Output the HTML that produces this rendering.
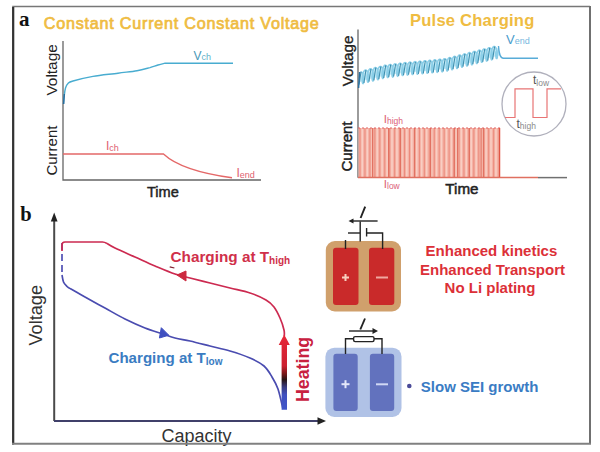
<!DOCTYPE html>
<html><head><meta charset="utf-8"><style>
html,body{margin:0;padding:0;background:#fff;width:600px;height:452px;overflow:hidden}
svg{display:block}
text{font-family:"Liberation Sans",sans-serif}
</style></head><body>
<svg width="600" height="452" viewBox="0 0 600 452">
<rect x="0" y="0" width="600" height="452" fill="#fff"/>
<!-- panel a label -->
<text x="19" y="25.5" font-family="Liberation Serif" font-weight="bold" font-size="21" fill="#111" style="font-family:'Liberation Serif',serif">a</text>
<text x="43.8" y="28.9" font-size="16.2" letter-spacing="0.75" fill="#efbc42" stroke="#efbc42" stroke-width="0.7">Constant Current Constant Voltage</text>

<!-- CCCV axes -->
<path d="M63,41 V180 H261" fill="none" stroke="#666" stroke-width="1.3"/>
<text transform="translate(56.8,95.6) rotate(-90)" font-size="15.4" fill="#222">Voltage</text>
<text transform="translate(57.3,175.6) rotate(-90)" font-size="15" fill="#222">Current</text>
<text x="147" y="197" font-size="14.6" fill="#222" stroke="#222" stroke-width="0.45">Time</text>
<path d="M63.5,104 C63.6,102.7 63.9,98.7 64.2,96 C64.5,93.3 64.9,90.1 65.5,88 C66.1,85.9 66.8,84.7 68,83.5 C69.2,82.3 68.8,82.2 73,81 C77.2,79.8 85.5,77.7 93,76.4 C100.5,75.1 110.7,74.2 118,73.2 C125.3,72.2 131.7,71.6 137,70.7 C142.3,69.8 146.5,68.5 150,67.6 C153.5,66.6 155.5,65.7 158,65 C160.5,64.3 163.8,63.5 165,63.2 H233" fill="none" stroke="#48acd0" stroke-width="1.4"/>
<path d="M63.6,104 L64.3,94" stroke="#2a6a9a" stroke-width="1.4"/>
<text x="193.5" y="60.2" font-size="12" fill="#4a98b8">V<tspan font-size="9" fill="#60b0c8">ch</tspan></text>
<path d="M63,154 H163.5 C172,162 190,172 232,177.8" fill="none" stroke="#e46868" stroke-width="1.4"/>
<text x="106" y="150" font-size="12" fill="#e06070">I<tspan font-size="9" dy="0.8">ch</tspan></text>
<text x="236.5" y="177" font-size="12" fill="#e06070">I<tspan font-size="9" dy="0.8">end</tspan></text>

<!-- Pulse panel -->
<text x="410" y="26.3" font-weight="bold" font-size="16.6" letter-spacing="0.2" fill="#efbc42">Pulse Charging</text>
<path d="M358,29.5 V177.7" fill="none" stroke="#666" stroke-width="1.3"/>
<text transform="translate(352.5,86.3) rotate(-90)" font-size="15.2" fill="#222" stroke="#222" stroke-width="0.35">Voltage</text>
<text transform="translate(351.8,171.5) rotate(-90)" font-size="15" fill="#222" stroke="#222" stroke-width="0.45">Current</text>
<text x="445.3" y="194.3" font-size="15.2" fill="#222" stroke="#222" stroke-width="0.5">Time</text>
<path d="M359.0,74.8 L361.0,74.1 L363.0,73.4 L365.0,72.7 L367.0,72.2 L369.0,71.7 L371.0,71.2 L373.0,70.7 L375.0,70.2 L377.0,69.8 L379.0,69.3 L381.0,68.8 L383.0,68.3 L385.0,67.8 L387.0,67.5 L389.0,67.3 L391.0,67.0 L393.0,66.7 L395.0,66.5 L397.0,66.2 L399.0,65.9 L401.0,65.6 L403.0,65.4 L405.0,65.1 L407.0,64.9 L409.0,64.7 L411.0,64.6 L413.0,64.4 L415.0,64.2 L417.0,64.0 L419.0,63.8 L421.0,63.7 L423.0,63.5 L425.0,63.3 L427.0,63.1 L429.0,62.9 L431.0,62.8 L433.0,62.6 L435.0,62.4 L437.0,62.2 L439.0,62.0 L441.0,61.7 L443.0,61.5 L445.0,61.3 L447.0,60.8 L449.0,60.3 L451.0,59.8 L453.0,59.3 L455.0,58.8 L457.0,58.3 L459.0,57.8 L461.0,57.3 L463.0,56.8 L465.0,56.3 L467.0,55.8 L469.0,55.3 L471.0,54.8 L473.0,54.3 L475.0,53.8 L477.0,53.3 L479.0,52.8 L481.0,52.3 L483.0,51.8 L485.0,51.3 L487.0,50.8 L489.0,50.3 L491.0,49.8 L493.0,49.3 L495.0,48.8 L497.0,48.3 L499.0,47.9 L499.0,55.5 L497.0,55.9 L495.0,56.4 L493.0,56.9 L491.0,57.4 L489.0,57.9 L487.0,58.4 L485.0,58.9 L483.0,59.4 L481.0,59.9 L479.0,60.4 L477.0,60.9 L475.0,61.4 L473.0,61.9 L471.0,62.4 L469.0,62.9 L467.0,63.4 L465.0,63.9 L463.0,64.4 L461.0,64.9 L459.0,65.4 L457.0,65.9 L455.0,66.4 L453.0,66.9 L451.0,67.4 L449.0,67.9 L447.0,68.4 L445.0,68.9 L443.0,69.1 L441.0,69.3 L439.0,69.6 L437.0,69.8 L435.0,70.0 L433.0,70.2 L431.0,70.4 L429.0,70.5 L427.0,70.7 L425.0,70.9 L423.0,71.1 L421.0,71.3 L419.0,71.4 L417.0,71.6 L415.0,71.8 L413.0,72.0 L411.0,72.2 L409.0,72.3 L407.0,72.5 L405.0,72.7 L403.0,73.0 L401.0,73.2 L399.0,73.5 L397.0,73.8 L395.0,74.0 L393.0,74.3 L391.0,74.6 L389.0,74.9 L387.0,75.1 L385.0,75.4 L383.0,75.9 L381.0,76.4 L379.0,76.9 L377.0,77.4 L375.0,77.8 L373.0,78.3 L371.0,78.8 L369.0,79.3 L367.0,79.8 L365.0,80.3 L363.0,81.0 L361.0,81.7 L359.0,82.4Z" fill="#c4eaf6"/>
<path d="M360.5,71.7 L360.9,71.8 L361.3,71.9 L361.6,72.2 L362.0,72.7 L362.3,73.2 L362.6,73.9 L362.9,74.6 L363.1,75.4 L363.3,76.3 L363.5,77.2 L363.6,78.1 L363.7,79.0 L363.7,79.8 L363.7,80.6 L363.7,81.4 L363.6,82.0 L363.5,82.6 L363.4,83.0 L363.3,83.3 L363.1,83.4 L363.0,83.5 L362.8,83.4 L362.7,83.1 L362.5,82.7 L362.4,82.2 L362.3,81.5 L362.3,80.8 L362.2,80.0 L362.2,79.1 L362.3,78.1 L362.4,77.2 L362.5,76.2 L362.7,75.2 L362.9,74.3 L363.1,73.4 L363.4,72.6 L363.7,71.9 L364.0,71.2 L364.4,70.8 L364.7,70.4 L365.1,70.2 L365.5,70.1 L365.9,70.1 L366.3,70.3 L366.6,70.7 L367.0,71.1 L367.3,71.7 L367.6,72.4 L367.9,73.1 L368.1,74.0 L368.3,74.8 L368.4,75.8 L368.6,76.7 L368.6,77.6 L368.7,78.4 L368.7,79.3 L368.6,80.0 L368.5,80.6 L368.5,81.2 L368.3,81.6 L368.2,81.9 L368.1,82.1 L367.9,82.1 L367.7,82.0 L367.6,81.7 L367.5,81.3 L367.4,80.8 L367.3,80.1 L367.2,79.4 L367.2,78.6 L367.2,77.7 L367.2,76.7 L367.3,75.8 L367.5,74.8 L367.6,73.8 L367.8,72.9 L368.1,72.1 L368.3,71.3 L368.7,70.6 L369.0,70.0 L369.3,69.5 L369.7,69.2 L370.1,68.9 L370.5,68.9 L370.9,68.9 L371.3,69.2 L371.6,69.5 L372.0,70.0 L372.3,70.6 L372.6,71.2 L372.8,72.0 L373.1,72.9 L373.3,73.7 L373.4,74.6 L373.5,75.6 L373.6,76.5 L373.6,77.3 L373.6,78.1 L373.6,78.9 L373.5,79.5 L373.4,80.0 L373.3,80.4 L373.1,80.7 L373.0,80.9 L372.8,80.9 L372.7,80.7 L372.5,80.4 L372.4,80.0 L372.3,79.5 L372.2,78.8 L372.2,78.1 L372.1,77.3 L372.1,76.4 L372.2,75.4 L372.3,74.5 L372.4,73.5 L372.6,72.5 L372.8,71.6 L373.0,70.8 L373.3,70.0 L373.6,69.3 L374.0,68.7 L374.3,68.2 L374.7,67.9 L375.1,67.7 L375.5,67.7 L375.9,67.8 L376.2,68.0 L376.6,68.3 L377.0,68.8 L377.3,69.4 L377.6,70.1 L377.8,70.9 L378.0,71.7 L378.2,72.6 L378.4,73.5 L378.5,74.5 L378.5,75.3 L378.6,76.2 L378.6,77.0 L378.5,77.7 L378.4,78.3 L378.3,78.9 L378.2,79.3 L378.1,79.5 L377.9,79.6 L377.8,79.6 L377.6,79.5 L377.5,79.2 L377.3,78.8 L377.2,78.2 L377.2,77.6 L377.1,76.8 L377.1,76.0 L377.1,75.0 L377.2,74.1 L377.3,73.1 L377.4,72.2 L377.6,71.2 L377.8,70.3 L378.0,69.4 L378.3,68.7 L378.6,68.0 L379.0,67.4 L379.3,67.0 L379.7,66.7 L380.1,66.5 L380.5,66.5 L380.9,66.6 L381.2,66.8 L381.6,67.2 L381.9,67.7 L382.3,68.3 L382.5,69.0 L382.8,69.8 L383.0,70.6 L383.2,71.5 L383.3,72.4 L383.4,73.3 L383.5,74.2 L383.5,75.1 L383.5,75.9 L383.4,76.6 L383.4,77.2 L383.3,77.7 L383.1,78.1 L383.0,78.3 L382.9,78.4 L382.7,78.4 L382.6,78.2 L382.4,77.9 L382.3,77.5 L382.2,76.9 L382.1,76.3 L382.1,75.5 L382.0,74.6 L382.1,73.7 L382.1,72.8 L382.2,71.8 L382.4,70.8 L382.5,69.9 L382.8,69.0 L383.0,68.1 L383.3,67.4 L383.6,66.7 L384.0,66.2 L384.3,65.7 L384.7,65.4 L385.1,65.3 L385.5,65.3 L385.9,65.4 L386.2,65.7 L386.6,66.1 L386.9,66.6 L387.2,67.2 L387.5,68.0 L387.8,68.8 L388.0,69.6 L388.2,70.6 L388.3,71.5 L388.4,72.4 L388.4,73.3 L388.5,74.2 L388.4,75.0 L388.4,75.7 L388.3,76.3 L388.2,76.8 L388.1,77.2 L387.9,77.4 L387.8,77.5 L387.6,77.5 L387.5,77.3 L387.3,77.0 L387.2,76.6 L387.1,76.0 L387.0,75.3 L387.0,74.6 L387.0,73.7 L387.0,72.8 L387.1,71.9 L387.2,70.9 L387.3,70.0 L387.5,69.0 L387.7,68.2 L388.0,67.3 L388.3,66.6 L388.6,65.9 L388.9,65.4 L389.3,65.0 L389.7,64.7 L390.1,64.6 L390.5,64.6 L390.8,64.8 L391.2,65.1 L391.6,65.5 L391.9,66.0 L392.2,66.7 L392.5,67.4 L392.8,68.2 L393.0,69.1 L393.1,70.0 L393.3,70.9 L393.4,71.8 L393.4,72.7 L393.4,73.6 L393.4,74.4 L393.3,75.1 L393.2,75.7 L393.1,76.2 L393.0,76.5 L392.9,76.8 L392.7,76.9 L392.6,76.8 L392.4,76.6 L392.3,76.3 L392.2,75.8 L392.1,75.3 L392.0,74.6 L391.9,73.8 L391.9,73.0 L392.0,72.1 L392.0,71.1 L392.1,70.2 L392.3,69.2 L392.5,68.3 L392.7,67.4 L393.0,66.6 L393.3,65.8 L393.6,65.2 L393.9,64.7 L394.3,64.3 L394.7,64.1 L395.1,63.9 L395.5,64.0 L395.8,64.1 L396.2,64.4 L396.6,64.9 L396.9,65.4 L397.2,66.1 L397.5,66.8 L397.7,67.6 L397.9,68.5 L398.1,69.4 L398.2,70.4 L398.3,71.3 L398.4,72.2 L398.4,73.0 L398.3,73.8 L398.3,74.5 L398.2,75.1 L398.1,75.6 L397.9,75.9 L397.8,76.1 L397.6,76.2 L397.5,76.1 L397.4,75.9 L397.2,75.6 L397.1,75.1 L397.0,74.5 L396.9,73.8 L396.9,73.1 L396.9,72.2 L396.9,71.3 L397.0,70.3 L397.1,69.4 L397.3,68.4 L397.5,67.5 L397.7,66.6 L398.0,65.8 L398.2,65.1 L398.6,64.5 L398.9,64.0 L399.3,63.6 L399.7,63.4 L400.1,63.3 L400.4,63.3 L400.8,63.5 L401.2,63.8 L401.6,64.2 L401.9,64.8 L402.2,65.5 L402.5,66.2 L402.7,67.1 L402.9,67.9 L403.1,68.9 L403.2,69.8 L403.3,70.7 L403.3,71.6 L403.3,72.4 L403.3,73.2 L403.2,73.9 L403.1,74.5 L403.0,74.9 L402.9,75.3 L402.7,75.5 L402.6,75.5 L402.4,75.4 L402.3,75.2 L402.2,74.9 L402.0,74.4 L401.9,73.8 L401.9,73.1 L401.8,72.3 L401.8,71.4 L401.9,70.5 L402.0,69.6 L402.1,68.6 L402.2,67.6 L402.4,66.7 L402.7,65.9 L402.9,65.1 L403.2,64.4 L403.6,63.8 L403.9,63.3 L404.3,62.9 L404.7,62.7 L405.1,62.6 L405.4,62.7 L405.8,62.9 L406.2,63.2 L406.5,63.7 L406.9,64.2 L407.2,64.9 L407.4,65.7 L407.7,66.5 L407.9,67.4 L408.0,68.4 L408.1,69.3 L408.2,70.2 L408.3,71.1 L408.3,71.9 L408.2,72.7 L408.2,73.4 L408.1,73.9 L407.9,74.4 L407.8,74.7 L407.7,74.9 L407.5,75.0 L407.4,74.9 L407.2,74.7 L407.1,74.3 L407.0,73.8 L406.9,73.2 L406.8,72.5 L406.8,71.7 L406.8,70.8 L406.8,69.9 L406.9,69.0 L407.0,68.0 L407.2,67.1 L407.4,66.1 L407.6,65.3 L407.9,64.5 L408.2,63.8 L408.6,63.2 L408.9,62.8 L409.3,62.4 L409.7,62.2 L410.0,62.1 L410.4,62.2 L410.8,62.4 L411.2,62.8 L411.5,63.3 L411.9,63.9 L412.2,64.6 L412.4,65.3 L412.6,66.2 L412.8,67.1 L413.0,68.0 L413.1,68.9 L413.2,69.9 L413.2,70.7 L413.2,71.6 L413.2,72.3 L413.1,73.0 L413.0,73.6 L412.9,74.0 L412.7,74.3 L412.6,74.5 L412.4,74.5 L412.3,74.4 L412.2,74.2 L412.0,73.8 L411.9,73.3 L411.8,72.7 L411.8,71.9 L411.7,71.1 L411.7,70.3 L411.8,69.3 L411.9,68.4 L412.0,67.4 L412.2,66.5 L412.4,65.6 L412.6,64.8 L412.9,64.0 L413.2,63.3 L413.5,62.7 L413.9,62.3 L414.3,61.9 L414.7,61.8 L415.0,61.7 L415.4,61.8 L415.8,62.0 L416.2,62.4 L416.5,62.9 L416.8,63.5 L417.1,64.2 L417.4,65.0 L417.6,65.8 L417.8,66.7 L418.0,67.7 L418.1,68.6 L418.1,69.5 L418.2,70.4 L418.2,71.2 L418.1,72.0 L418.0,72.6 L417.9,73.2 L417.8,73.6 L417.7,73.9 L417.5,74.1 L417.4,74.1 L417.2,74.0 L417.1,73.7 L417.0,73.3 L416.9,72.8 L416.8,72.1 L416.7,71.4 L416.7,70.6 L416.7,69.7 L416.8,68.8 L416.8,67.8 L417.0,66.9 L417.1,66.0 L417.4,65.1 L417.6,64.2 L417.9,63.5 L418.2,62.8 L418.5,62.2 L418.9,61.8 L419.3,61.5 L419.6,61.3 L420.0,61.3 L420.4,61.4 L420.8,61.6 L421.2,62.0 L421.5,62.5 L421.8,63.1 L422.1,63.8 L422.4,64.6 L422.6,65.5 L422.8,66.4 L422.9,67.3 L423.0,68.3 L423.1,69.2 L423.1,70.0 L423.1,70.9 L423.1,71.6 L423.0,72.2 L422.9,72.8 L422.8,73.2 L422.6,73.5 L422.5,73.6 L422.3,73.6 L422.2,73.5 L422.0,73.2 L421.9,72.8 L421.8,72.3 L421.7,71.6 L421.7,70.9 L421.6,70.1 L421.7,69.2 L421.7,68.2 L421.8,67.3 L421.9,66.3 L422.1,65.4 L422.3,64.5 L422.6,63.7 L422.9,62.9 L423.2,62.3 L423.5,61.7 L423.9,61.3 L424.3,61.0 L424.6,60.8 L425.0,60.8 L425.4,60.9 L425.8,61.2 L426.2,61.6 L426.5,62.1 L426.8,62.8 L427.1,63.5 L427.4,64.3 L427.6,65.1 L427.7,66.1 L427.9,67.0 L428.0,67.9 L428.0,68.8 L428.1,69.7 L428.0,70.5 L428.0,71.2 L427.9,71.9 L427.8,72.4 L427.7,72.8 L427.5,73.1 L427.4,73.2 L427.2,73.2 L427.1,73.0 L427.0,72.7 L426.8,72.3 L426.7,71.8 L426.7,71.1 L426.6,70.3 L426.6,69.5 L426.6,68.6 L426.7,67.7 L426.8,66.7 L426.9,65.8 L427.1,64.9 L427.3,64.0 L427.6,63.1 L427.8,62.4 L428.2,61.8 L428.5,61.2 L428.9,60.8 L429.2,60.5 L429.6,60.4 L430.0,60.4 L430.4,60.5 L430.8,60.8 L431.1,61.2 L431.5,61.7 L431.8,62.4 L432.1,63.1 L432.3,63.9 L432.5,64.8 L432.7,65.7 L432.8,66.6 L432.9,67.6 L433.0,68.5 L433.0,69.3 L433.0,70.1 L432.9,70.9 L432.9,71.5 L432.7,72.0 L432.6,72.4 L432.5,72.6 L432.3,72.7 L432.2,72.7 L432.0,72.5 L431.9,72.2 L431.8,71.8 L431.7,71.2 L431.6,70.6 L431.5,69.8 L431.5,69.0 L431.6,68.1 L431.6,67.1 L431.7,66.2 L431.9,65.2 L432.1,64.3 L432.3,63.4 L432.5,62.6 L432.8,61.9 L433.2,61.2 L433.5,60.7 L433.9,60.3 L434.2,60.1 L434.6,59.9 L435.0,59.9 L435.4,60.1 L435.8,60.4 L436.1,60.8 L436.5,61.4 L436.8,62.0 L437.1,62.7 L437.3,63.6 L437.5,64.4 L437.7,65.4 L437.8,66.3 L437.9,67.2 L438.0,68.1 L438.0,69.0 L437.9,69.8 L437.9,70.5 L437.8,71.1 L437.7,71.6 L437.6,71.9 L437.4,72.2 L437.3,72.3 L437.1,72.2 L437.0,72.0 L436.8,71.7 L436.7,71.2 L436.6,70.7 L436.5,70.0 L436.5,69.2 L436.5,68.4 L436.5,67.5 L436.6,66.5 L436.7,65.6 L436.8,64.6 L437.0,63.7 L437.3,62.8 L437.5,62.0 L437.8,61.3 L438.1,60.7 L438.5,60.1 L438.9,59.8 L439.2,59.5 L439.6,59.4 L440.0,59.4 L440.4,59.6 L440.8,59.9 L441.1,60.3 L441.5,60.9 L441.8,61.5 L442.0,62.3 L442.3,63.1 L442.5,64.0 L442.6,64.9 L442.8,65.8 L442.9,66.8 L442.9,67.7 L442.9,68.5 L442.9,69.3 L442.8,70.0 L442.7,70.6 L442.6,71.1 L442.5,71.4 L442.3,71.6 L442.2,71.7 L442.0,71.6 L441.9,71.4 L441.8,71.1 L441.6,70.6 L441.6,70.1 L441.5,69.4 L441.4,68.6 L441.4,67.7 L441.5,66.8 L441.5,65.9 L441.7,64.9 L441.8,64.0 L442.0,63.0 L442.2,62.2 L442.5,61.4 L442.8,60.7 L443.1,60.0 L443.5,59.5 L443.8,59.2 L444.2,58.9 L444.6,58.8 L445.0,58.9 L445.4,59.1 L445.8,59.4 L446.1,59.8 L446.4,60.4 L446.7,61.0 L447.0,61.8 L447.3,62.6 L447.5,63.5 L447.6,64.4 L447.7,65.3 L447.8,66.2 L447.9,67.1 L447.9,67.9 L447.8,68.6 L447.8,69.3 L447.7,69.9 L447.6,70.3 L447.4,70.6 L447.3,70.8 L447.1,70.9 L447.0,70.8 L446.8,70.5 L446.7,70.2 L446.6,69.7 L446.5,69.1 L446.4,68.3 L446.4,67.5 L446.4,66.7 L446.4,65.7 L446.5,64.8 L446.6,63.8 L446.8,62.8 L447.0,61.9 L447.2,61.0 L447.5,60.2 L447.8,59.5 L448.1,58.9 L448.5,58.4 L448.8,58.0 L449.2,57.7 L449.6,57.6 L450.0,57.7 L450.4,57.9 L450.7,58.2 L451.1,58.6 L451.4,59.2 L451.7,59.9 L452.0,60.6 L452.2,61.4 L452.4,62.3 L452.6,63.2 L452.7,64.1 L452.8,65.0 L452.8,65.9 L452.8,66.7 L452.8,67.5 L452.7,68.1 L452.6,68.7 L452.5,69.1 L452.4,69.4 L452.2,69.6 L452.1,69.6 L451.9,69.5 L451.8,69.3 L451.6,68.9 L451.5,68.4 L451.4,67.7 L451.4,67.0 L451.3,66.2 L451.3,65.3 L451.4,64.4 L451.5,63.4 L451.6,62.4 L451.8,61.5 L452.0,60.5 L452.2,59.7 L452.5,58.9 L452.8,58.2 L453.1,57.6 L453.5,57.1 L453.8,56.7 L454.2,56.5 L454.6,56.4 L455.0,56.5 L455.4,56.7 L455.7,57.0 L456.1,57.5 L456.4,58.0 L456.7,58.7 L457.0,59.5 L457.2,60.3 L457.4,61.2 L457.5,62.1 L457.7,63.0 L457.7,63.9 L457.8,64.8 L457.8,65.6 L457.7,66.3 L457.6,67.0 L457.5,67.5 L457.4,67.9 L457.3,68.2 L457.1,68.4 L457.0,68.4 L456.8,68.3 L456.7,68.0 L456.6,67.6 L456.5,67.1 L456.4,66.4 L456.3,65.7 L456.3,64.9 L456.3,64.0 L456.3,63.0 L456.4,62.1 L456.6,61.1 L456.7,60.1 L456.9,59.2 L457.2,58.3 L457.5,57.6 L457.8,56.9 L458.1,56.3 L458.5,55.8 L458.8,55.4 L459.2,55.2 L459.6,55.2 L460.0,55.2 L460.4,55.5 L460.7,55.8 L461.1,56.3 L461.4,56.9 L461.7,57.6 L461.9,58.3 L462.2,59.2 L462.4,60.0 L462.5,61.0 L462.6,61.9 L462.7,62.8 L462.7,63.6 L462.7,64.4 L462.7,65.2 L462.6,65.8 L462.5,66.3 L462.4,66.7 L462.2,67.0 L462.1,67.1 L461.9,67.1 L461.8,67.0 L461.6,66.7 L461.5,66.3 L461.4,65.8 L461.3,65.1 L461.3,64.4 L461.2,63.5 L461.3,62.6 L461.3,61.7 L461.4,60.7 L461.5,59.7 L461.7,58.8 L461.9,57.9 L462.2,57.0 L462.4,56.2 L462.7,55.5 L463.1,55.0 L463.4,54.5 L463.8,54.2 L464.2,54.0 L464.6,53.9 L465.0,54.0 L465.4,54.3 L465.7,54.6 L466.1,55.1 L466.4,55.7 L466.7,56.4 L466.9,57.2 L467.1,58.0 L467.3,58.9 L467.5,59.8 L467.6,60.7 L467.6,61.6 L467.7,62.5 L467.6,63.3 L467.6,64.0 L467.5,64.6 L467.4,65.1 L467.3,65.5 L467.2,65.8 L467.0,65.9 L466.9,65.9 L466.7,65.7 L466.6,65.4 L466.4,65.0 L466.3,64.5 L466.3,63.8 L466.2,63.0 L466.2,62.2 L466.2,61.3 L466.3,60.3 L466.4,59.4 L466.5,58.4 L466.7,57.4 L466.9,56.5 L467.1,55.7 L467.4,54.9 L467.7,54.2 L468.1,53.7 L468.4,53.2 L468.8,52.9 L469.2,52.7 L469.6,52.7 L470.0,52.8 L470.3,53.1 L470.7,53.4 L471.0,53.9 L471.4,54.5 L471.6,55.2 L471.9,56.0 L472.1,56.9 L472.3,57.8 L472.4,58.7 L472.5,59.6 L472.6,60.5 L472.6,61.3 L472.6,62.1 L472.5,62.8 L472.5,63.4 L472.4,63.9 L472.2,64.3 L472.1,64.6 L471.9,64.7 L471.8,64.6 L471.6,64.5 L471.5,64.2 L471.4,63.7 L471.3,63.2 L471.2,62.5 L471.2,61.7 L471.1,60.9 L471.2,59.9 L471.2,59.0 L471.3,58.0 L471.5,57.1 L471.6,56.1 L471.9,55.2 L472.1,54.4 L472.4,53.6 L472.7,52.9 L473.1,52.4 L473.4,51.9 L473.8,51.6 L474.2,51.5 L474.6,51.5 L475.0,51.6 L475.3,51.9 L475.7,52.2 L476.0,52.8 L476.3,53.4 L476.6,54.1 L476.9,54.9 L477.1,55.7 L477.3,56.6 L477.4,57.6 L477.5,58.5 L477.5,59.4 L477.6,60.2 L477.5,61.0 L477.5,61.7 L477.4,62.3 L477.3,62.8 L477.2,63.1 L477.0,63.4 L476.9,63.4 L476.7,63.4 L476.6,63.2 L476.4,62.9 L476.3,62.4 L476.2,61.9 L476.1,61.2 L476.1,60.4 L476.1,59.5 L476.1,58.6 L476.2,57.7 L476.3,56.7 L476.4,55.7 L476.6,54.8 L476.8,53.9 L477.1,53.0 L477.4,52.3 L477.7,51.6 L478.1,51.1 L478.4,50.7 L478.8,50.4 L479.2,50.3 L479.6,50.2 L480.0,50.4 L480.3,50.7 L480.7,51.1 L481.0,51.6 L481.3,52.2 L481.6,53.0 L481.9,53.8 L482.1,54.6 L482.2,55.5 L482.4,56.4 L482.5,57.3 L482.5,58.2 L482.5,59.1 L482.5,59.8 L482.4,60.5 L482.3,61.1 L482.2,61.6 L482.1,61.9 L482.0,62.1 L481.8,62.2 L481.7,62.2 L481.5,62.0 L481.4,61.6 L481.3,61.1 L481.2,60.6 L481.1,59.9 L481.0,59.1 L481.0,58.2 L481.1,57.3 L481.1,56.3 L481.2,55.3 L481.4,54.4 L481.6,53.4 L481.8,52.5 L482.1,51.7 L482.4,51.0 L482.7,50.3 L483.0,49.8 L483.4,49.4 L483.8,49.1 L484.2,49.0 L484.6,49.0 L484.9,49.2 L485.3,49.5 L485.7,49.9 L486.0,50.4 L486.3,51.1 L486.6,51.8 L486.8,52.6 L487.0,53.5 L487.2,54.4 L487.3,55.3 L487.4,56.2 L487.5,57.1 L487.5,57.9 L487.4,58.7 L487.4,59.4 L487.3,59.9 L487.2,60.4 L487.0,60.7 L486.9,60.9 L486.7,61.0 L486.6,60.9 L486.4,60.7 L486.3,60.3 L486.2,59.9 L486.1,59.3 L486.0,58.5 L486.0,57.7 L486.0,56.9 L486.0,55.9 L486.1,55.0 L486.2,54.0 L486.4,53.0 L486.6,52.1 L486.8,51.2 L487.1,50.4 L487.4,49.7 L487.7,49.0 L488.0,48.5 L488.4,48.1 L488.8,47.9 L489.2,47.8 L489.6,47.8 L489.9,48.0 L490.3,48.3 L490.7,48.7 L491.0,49.3 L491.3,49.9 L491.6,50.7 L491.8,51.5 L492.0,52.4 L492.2,53.3 L492.3,54.2 L492.4,55.1 L492.4,56.0 L492.4,56.8 L492.4,57.5 L492.3,58.2 L492.2,58.8 L492.1,59.2 L492.0,59.5 L491.8,59.7 L491.7,59.8 L491.5,59.7 L491.4,59.4 L491.3,59.1 L491.1,58.6 L491.0,58.0 L491.0,57.2 L490.9,56.4 L490.9,55.5 L491.0,54.6 L491.1,53.6 L491.2,52.7 L491.3,51.7 L491.5,50.8 L491.8,49.9 L492.0,49.1 L492.3,48.4 L492.7,47.8 L493.0,47.3 L493.4,46.9 L493.8,46.6 L494.2,46.6 L494.5,46.6 L494.9,46.8 L495.3,47.1 L495.6,47.6 L496.0,48.1 L496.3,48.8 L496.5,49.5 L496.8,50.4 L497.0,51.2 L497.1,52.1 L497.2,53.1 L497.3,54.0 L497.4,54.8 L497.4,55.6 L497.3,56.4 L497.3,57.0 L497.2,57.6 L497.0,58.0 L496.9,58.3 L496.8,58.5 L496.6,58.5 L496.5,58.4 L496.3,58.2 L496.2,57.8 L496.1,57.3 L496.0,56.6 L495.9,55.9 L495.9,55.1 L495.9,54.2 L495.9,53.3 L496.0,52.3 L496.1,51.3" fill="none" stroke="#8ccfe8" stroke-width="1.7"/>
<path d="M359.0,84.7 L361.0,71.8 M363.9,83.0 L365.9,70.2 M368.9,81.6 L370.9,69.0 M373.8,80.4 L375.8,67.7 M378.8,79.2 L380.8,66.5 M383.7,78.0 L385.7,65.4 M388.7,77.2 L390.7,64.7 M393.6,76.5 L395.6,64.1 M398.6,75.9 L400.6,63.4 M403.5,75.2 L405.5,62.8 M408.5,74.7 L410.5,62.3 M413.4,74.2 L415.4,61.9 M418.4,73.8 L420.4,61.4 M423.3,73.3 L425.3,61.0 M428.3,72.9 L430.3,60.5 M433.2,72.5 L435.2,60.1 M438.2,71.9 L440.2,59.5 M443.1,71.4 L445.1,59.0 M448.1,70.4 L450.1,57.7 M453.0,69.2 L455.0,56.5 M458.0,68.0 L460.0,55.3 M462.9,66.7 L464.9,54.0 M467.9,65.5 L469.9,52.8 M472.8,64.2 L474.8,51.5 M477.8,63.0 L479.8,50.3 M482.7,61.8 L484.7,49.1 M487.7,60.6 L489.7,47.9 M492.6,59.3 L494.6,46.6" fill="none" stroke="#4090b0" stroke-width="1.1"/>
<path d="M358.6,88 L359.6,72" stroke="#2a70a0" stroke-width="1.4"/>
<path d="M498.5,46 C499,54 500,58 503.5,58.3 H538" fill="none" stroke="#58acd8" stroke-width="1.4"/>
<text x="506" y="43.6" font-size="13" fill="#4a9ccc">V<tspan font-size="9" dy="0.8" fill="#78b8e0">end</tspan></text>
<rect x="358.5" y="128" width="141.5" height="49.6" fill="#f4b2a5"/>
<rect x="359.50" y="128" width="1.0" height="49.6" fill="#ec8a7c"/>
<rect x="361.50" y="128" width="1.6" height="49.6" fill="#f9cec4"/>
<rect x="364.45" y="128" width="1.0" height="49.6" fill="#ec8a7c"/>
<rect x="366.45" y="128" width="1.6" height="49.6" fill="#f9cec4"/>
<rect x="369.40" y="128" width="1.0" height="49.6" fill="#ec8a7c"/>
<rect x="371.40" y="128" width="1.6" height="49.6" fill="#f9cec4"/>
<rect x="374.35" y="128" width="1.0" height="49.6" fill="#ec8a7c"/>
<rect x="376.35" y="128" width="1.6" height="49.6" fill="#f9cec4"/>
<rect x="379.30" y="128" width="1.0" height="49.6" fill="#ec8a7c"/>
<rect x="381.30" y="128" width="1.6" height="49.6" fill="#f9cec4"/>
<rect x="384.25" y="128" width="1.0" height="49.6" fill="#ec8a7c"/>
<rect x="386.25" y="128" width="1.6" height="49.6" fill="#f9cec4"/>
<rect x="389.20" y="128" width="1.0" height="49.6" fill="#ec8a7c"/>
<rect x="391.20" y="128" width="1.6" height="49.6" fill="#f9cec4"/>
<rect x="394.15" y="128" width="1.0" height="49.6" fill="#ec8a7c"/>
<rect x="396.15" y="128" width="1.6" height="49.6" fill="#f9cec4"/>
<rect x="399.10" y="128" width="1.0" height="49.6" fill="#ec8a7c"/>
<rect x="401.10" y="128" width="1.6" height="49.6" fill="#f9cec4"/>
<rect x="404.05" y="128" width="1.0" height="49.6" fill="#ec8a7c"/>
<rect x="406.05" y="128" width="1.6" height="49.6" fill="#f9cec4"/>
<rect x="409.00" y="128" width="1.0" height="49.6" fill="#ec8a7c"/>
<rect x="411.00" y="128" width="1.6" height="49.6" fill="#f9cec4"/>
<rect x="413.95" y="128" width="1.0" height="49.6" fill="#ec8a7c"/>
<rect x="415.95" y="128" width="1.6" height="49.6" fill="#f9cec4"/>
<rect x="418.90" y="128" width="1.0" height="49.6" fill="#ec8a7c"/>
<rect x="420.90" y="128" width="1.6" height="49.6" fill="#f9cec4"/>
<rect x="423.85" y="128" width="1.0" height="49.6" fill="#ec8a7c"/>
<rect x="425.85" y="128" width="1.6" height="49.6" fill="#f9cec4"/>
<rect x="428.80" y="128" width="1.0" height="49.6" fill="#ec8a7c"/>
<rect x="430.80" y="128" width="1.6" height="49.6" fill="#f9cec4"/>
<rect x="433.75" y="128" width="1.0" height="49.6" fill="#ec8a7c"/>
<rect x="435.75" y="128" width="1.6" height="49.6" fill="#f9cec4"/>
<rect x="438.70" y="128" width="1.0" height="49.6" fill="#ec8a7c"/>
<rect x="440.70" y="128" width="1.6" height="49.6" fill="#f9cec4"/>
<rect x="443.65" y="128" width="1.0" height="49.6" fill="#ec8a7c"/>
<rect x="445.65" y="128" width="1.6" height="49.6" fill="#f9cec4"/>
<rect x="448.60" y="128" width="1.0" height="49.6" fill="#ec8a7c"/>
<rect x="450.60" y="128" width="1.6" height="49.6" fill="#f9cec4"/>
<rect x="453.55" y="128" width="1.0" height="49.6" fill="#ec8a7c"/>
<rect x="455.55" y="128" width="1.6" height="49.6" fill="#f9cec4"/>
<rect x="458.50" y="128" width="1.0" height="49.6" fill="#ec8a7c"/>
<rect x="460.50" y="128" width="1.6" height="49.6" fill="#f9cec4"/>
<rect x="463.45" y="128" width="1.0" height="49.6" fill="#ec8a7c"/>
<rect x="465.45" y="128" width="1.6" height="49.6" fill="#f9cec4"/>
<rect x="468.40" y="128" width="1.0" height="49.6" fill="#ec8a7c"/>
<rect x="470.40" y="128" width="1.6" height="49.6" fill="#f9cec4"/>
<rect x="473.35" y="128" width="1.0" height="49.6" fill="#ec8a7c"/>
<rect x="475.35" y="128" width="1.6" height="49.6" fill="#f9cec4"/>
<rect x="478.30" y="128" width="1.0" height="49.6" fill="#ec8a7c"/>
<rect x="480.30" y="128" width="1.6" height="49.6" fill="#f9cec4"/>
<rect x="483.25" y="128" width="1.0" height="49.6" fill="#ec8a7c"/>
<rect x="485.25" y="128" width="1.6" height="49.6" fill="#f9cec4"/>
<rect x="488.20" y="128" width="1.0" height="49.6" fill="#ec8a7c"/>
<rect x="490.20" y="128" width="1.6" height="49.6" fill="#f9cec4"/>
<rect x="493.15" y="128" width="1.0" height="49.6" fill="#ec8a7c"/>
<rect x="495.15" y="128" width="1.6" height="49.6" fill="#f9cec4"/>
<rect x="372.00" y="128" width="1.2" height="49.6" fill="#e27262"/>
<rect x="388.00" y="128" width="1.2" height="49.6" fill="#e27262"/>
<rect x="400.00" y="128" width="1.2" height="49.6" fill="#e27262"/>
<rect x="414.00" y="128" width="1.2" height="49.6" fill="#e27262"/>
<rect x="430.00" y="128" width="1.2" height="49.6" fill="#e27262"/>
<rect x="453.70" y="128" width="1.2" height="49.6" fill="#e27262"/>
<rect x="456.90" y="128" width="1.2" height="49.6" fill="#e27262"/>
<rect x="468.80" y="128" width="1.2" height="49.6" fill="#e27262"/>
<rect x="480.50" y="128" width="1.2" height="49.6" fill="#e27262"/>
<rect x="483.00" y="128" width="1.2" height="49.6" fill="#e27262"/>
<line x1="358" y1="128" x2="500" y2="128" stroke="#e06060" stroke-width="1" stroke-dasharray="2,2"/>
<line x1="499.5" y1="128" x2="499.5" y2="177.6" stroke="#e05545" stroke-width="1.5"/>
<line x1="358" y1="177.6" x2="538" y2="177.6" stroke="#e07060" stroke-width="1.5"/>
<line x1="538" y1="177.6" x2="567" y2="177.6" stroke="#707070" stroke-width="1.5"/>
<text x="383.8" y="123" font-size="11.5" fill="#dc6078">I<tspan font-size="8.5" dy="1">high</tspan></text>
<text x="383.8" y="188" font-size="11.5" fill="#dc6078">I<tspan font-size="8.5" dy="1">low</tspan></text>
<!-- inset -->
<circle cx="534" cy="104" r="32" fill="#fff" stroke="#b0b0bc" stroke-width="1.3"/>
<path d="M505,117.5 H515 V88.8 H533 V117.5 H547 V88.8 H561" fill="none" stroke="#e87474" stroke-width="1.2"/>
<text x="533" y="84" font-size="12" fill="#555">t<tspan font-size="8.5" dy="1.8" fill="#8a8a8a">low</tspan></text>
<text x="516.5" y="127.5" font-size="12" fill="#555">t<tspan font-size="8.5" dy="1.8" fill="#8a8a8a">high</tspan></text>

<!-- panel b -->
<text x="20.3" y="221" font-weight="bold" font-size="20.5" fill="#111" style="font-family:'Liberation Serif',serif">b</text>
<path d="M54.2,421 V219" fill="none" stroke="#4a4a4a" stroke-width="2"/>
<path d="M50.8,221.5 L54.2,212.5 L57.6,221.5 Z" fill="#222"/>
<path d="M54,421 H320" fill="none" stroke="#40406a" stroke-width="2"/>
<path d="M317.5,417.3 L326,421 L317.5,424.7 Z" fill="#222"/>
<text x="161.5" y="441.7" font-size="18" fill="#333">Capacity</text>
<text transform="translate(42.2,345.6) rotate(-90)" font-size="18.2" fill="#333">Voltage</text>

<path d="M62,243 V276" fill="none" stroke="#5a5ab8" stroke-width="1.8" stroke-dasharray="7,4"/>
<path d="M62,275 C62.2,276.2 62.7,280.1 63.5,282 C64.3,283.9 65.8,285.3 67,286.5 C68.2,287.7 68.0,287.2 71,289 C74.0,290.8 79.3,293.8 85,297 C90.7,300.2 98.3,304.3 105,308 C111.7,311.7 118.3,315.7 125,319 C131.7,322.3 138.7,325.5 145,328 C151.3,330.5 158.0,332.3 163,334 C168.0,335.7 170.5,336.8 175,338 C179.5,339.2 184.2,339.7 190,341 C195.8,342.3 203.3,344.3 210,346 C216.7,347.7 223.3,349.0 230,351 C236.7,353.0 244.3,355.5 250,358 C255.7,360.5 260.3,362.8 264,366 C267.7,369.2 269.7,373.2 272,377 C274.3,380.8 276.2,383.7 278,389 C279.8,394.3 282.2,405.7 283,409" fill="none" stroke="#4a4cb0" stroke-width="1.7"/>
<path d="M161.3,327.7 L168.8,335.2 L159.4,338 Z" fill="#4050c0" stroke="#4050c0" stroke-width="1" stroke-linejoin="round"/>
<path d="M62,251 V245 Q62,242 65,242 H102.5 Q104.5,242 107,243.4" fill="none" stroke="#cc2a50" stroke-width="1.7"/>
<path d="M107,243.4 C108.3,244.2 110.3,245.7 115,248 C119.7,250.3 128.3,254.0 135,257 C141.7,260.0 148.3,263.2 155,266 C161.7,268.8 169.2,272.0 175,274 C180.8,276.0 184.2,276.5 190,278 C195.8,279.5 203.3,281.3 210,283 C216.7,284.7 223.3,286.3 230,288 C236.7,289.7 244.0,291.0 250,293 C256.0,295.0 262.0,297.7 266,300 C270.0,302.3 271.7,304.0 274,307 C276.3,310.0 278.3,314.2 280,318 C281.7,321.8 283.3,327.0 284,330 C284.7,333.0 284.2,335.0 284.3,336" fill="none" stroke="#cc2a50" stroke-width="1.7"/>
<path d="M186,271 L177,275 L186,281 Z" fill="#cc2a40" stroke="#cc2a40" stroke-width="1" stroke-linejoin="round"/>
<path d="M169.7,266.8 L174.4,268" stroke="#802030" stroke-width="1.2"/>
<text x="170.5" y="261.7" font-weight="bold" font-size="15.3" fill="#d0304a">Charging at T<tspan font-size="10" dy="2.4">high</tspan></text>
<text x="108.5" y="362.5" font-weight="bold" font-size="15.1" fill="#3a7cc2">Charging at T<tspan font-size="10" dy="2.4">low</tspan></text>

<defs>
<linearGradient id="hg" gradientUnits="userSpaceOnUse" x1="0" y1="334" x2="0" y2="410">
<stop offset="0" stop-color="#e8283a"/>
<stop offset="0.42" stop-color="#cc2030"/>
<stop offset="0.52" stop-color="#7a1818"/>
<stop offset="0.6" stop-color="#281414"/>
<stop offset="0.7" stop-color="#3a3c80"/>
<stop offset="0.8" stop-color="#4050c0"/>
<stop offset="1" stop-color="#4056c8"/>
</linearGradient>
</defs>
<path d="M281.6,345 H278.7 L284.2,334.4 L289.8,345 H287 V409.7 H281.6 Z" fill="url(#hg)"/>
<text transform="translate(308.8,402) rotate(-90)" font-weight="bold" font-size="17.8" fill="#c82040">Heating</text>

<!-- batteries -->
<rect x="325.8" y="241" width="75.2" height="70.5" rx="9" fill="#d0a06c"/>
<rect x="333" y="247.8" width="25.5" height="57.2" rx="3" fill="#c92a2a"/>
<rect x="369" y="247.8" width="25.3" height="57.2" rx="3" fill="#c92a2a"/>
<rect x="342" y="276.5" width="7" height="2" fill="#f8d0c0"/><rect x="344.5" y="274" width="2" height="7" fill="#f8d0c0"/>
<rect x="376" y="276.5" width="12" height="2" fill="#f0a8a0"/>
<g fill="none" stroke="#222" stroke-width="1.4">
<path d="M345.5,240 V249"/>
<path d="M348,233 H360"/>
<path d="M360.2,221.5 V241.5"/>
<path d="M366.6,228 V236.5"/>
<path d="M366.6,233 H382.6 V249"/>
<path d="M351,221 H377.6"/>
<path d="M365.2,206.6 L360.6,218" stroke-width="1.9"/>
</g>
<path d="M348.5,221 L353.5,218.5 L353.5,223.5 Z" fill="#222"/>

<rect x="325.4" y="347.7" width="76.1" height="69.3" rx="9" fill="#b0c2e6"/>
<rect x="333.4" y="353.8" width="24.3" height="57.2" rx="3" fill="#6272be"/>
<rect x="369.9" y="353.8" width="24.3" height="57.2" rx="3" fill="#6272be"/>
<rect x="341.5" y="383.2" width="8" height="2" fill="#e4e8fa"/><rect x="344.5" y="380.2" width="2" height="8" fill="#e4e8fa"/>
<rect x="376" y="383.3" width="12" height="2" fill="#d0d8f4"/>
<g fill="none" stroke="#222" stroke-width="1.4">
<path d="M345.5,354 V338.7 H353.6"/>
<path d="M374,338.7 H382 V354"/>
<rect x="353.6" y="336.6" width="20.4" height="5" rx="1.5" fill="#fff"/>
<path d="M349,331 H375"/>
<path d="M365,318.5 L360.3,329.5" stroke-width="1.9"/>
</g>
<path d="M378,331 L372.5,328 L372.5,334 Z" fill="#222"/>

<text x="425.6" y="256" font-weight="bold" font-size="15" fill="#dc3038">Enhanced kinetics</text>
<text x="420" y="274.7" font-weight="bold" font-size="15" fill="#dc3038">Enhanced Transport</text>
<text x="444.6" y="293" font-weight="bold" font-size="15" fill="#dc3038">No Li plating</text>
<circle cx="409.3" cy="386" r="2.3" fill="#4a4a98"/>
<text x="420.8" y="391.5" font-weight="bold" font-size="15" fill="#3a7cc4">Slow SEI growth</text>
<!-- frame -->
<path d="M13,445 V6.5 H590" fill="none" stroke="#777" stroke-width="1.6"/>
<line x1="13.2" y1="7" x2="13.2" y2="444" stroke="#333" stroke-width="2.2"/>
<line x1="590" y1="6" x2="590" y2="444" stroke="#707070" stroke-width="2"/>
<line x1="12" y1="443.8" x2="591" y2="443.8" stroke="#808080" stroke-width="2"/>

</svg>
</body></html>
